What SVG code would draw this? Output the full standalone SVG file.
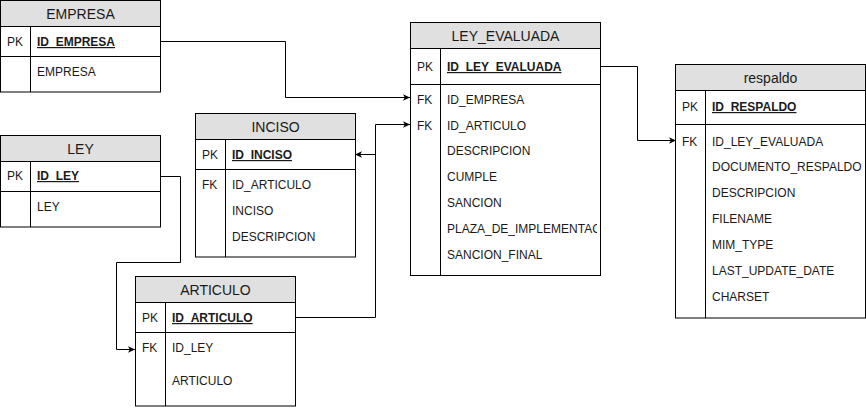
<svg xmlns="http://www.w3.org/2000/svg" width="866" height="409" viewBox="0 0 866 409">
<style>
.box{fill:#fff;stroke:#000;stroke-width:1}
.hdr{fill:#e0e0e0;stroke:#000;stroke-width:1}
.ln{stroke:#000;stroke-width:1;fill:none}
.t{font-family:"Liberation Sans",Arial,sans-serif;font-size:12px;fill:#1a1a1a}
.h{font-family:"Liberation Sans",Arial,sans-serif;font-size:14px;fill:#1a1a1a;text-anchor:middle}
.pk{font-weight:bold;text-decoration:underline}
.edge{stroke:#000;stroke-width:1;fill:none;marker-end:url(#arr)}
</style>
<defs>
<marker id="arr" markerWidth="8" markerHeight="8" refX="7" refY="4" orient="auto" markerUnits="userSpaceOnUse">
<path d="M0,0.8 L7,4 L0,7.2 L1.8,4 Z" fill="#000"/>
</marker>
<clipPath id="clipLE"><rect x="410" y="22" width="187" height="253"/></clipPath>
<clipPath id="clipRS"><rect x="676" y="64" width="186" height="254"/></clipPath>
</defs>

<g id="connectors">
<path class="edge" d="M160.5,41.5 H285.5 V97.5 H410"/>
<path class="edge" d="M160.5,176.5 H180.5 V262.5 H116.5 V349.5 H135"/>
<path class="edge" d="M295.5,317.5 H375.5 V124.5 H410"/>
<path class="edge" d="M375.5,154.5 H355"/>
<path class="edge" d="M600.5,66.5 H637.5 V140.5 H676"/>
</g>

<g id="EMPRESA">
<rect class="box" x="0.5" y="0.5" width="160" height="91.5"/>
<rect class="hdr" x="0.5" y="0.5" width="160" height="26"/>
<line class="ln" x1="0.5" y1="56.5" x2="160.5" y2="56.5"/>
<line class="ln" x1="30.5" y1="26.5" x2="30.5" y2="92"/>
<text class="h" x="80.5" y="19">EMPRESA</text>
<text class="t" x="7" y="46">PK</text>
<text class="t pk" x="37" y="46">ID_EMPRESA</text>
<text class="t" x="37" y="76">EMPRESA</text>
</g>

<g id="LEY">
<rect class="box" x="0.5" y="135.5" width="160" height="91.5"/>
<rect class="hdr" x="0.5" y="135.5" width="160" height="26"/>
<line class="ln" x1="0.5" y1="191.5" x2="160.5" y2="191.5"/>
<line class="ln" x1="30.5" y1="161.5" x2="30.5" y2="227"/>
<text class="h" x="80.5" y="154">LEY</text>
<text class="t" x="7" y="180">PK</text>
<text class="t pk" x="37" y="180">ID_LEY</text>
<text class="t" x="37" y="211">LEY</text>
</g>

<g id="INCISO">
<rect class="box" x="195.5" y="113.5" width="160" height="143.5"/>
<rect class="hdr" x="195.5" y="113.5" width="160" height="26"/>
<line class="ln" x1="195.5" y1="169.5" x2="355.5" y2="169.5"/>
<line class="ln" x1="225.5" y1="139.5" x2="225.5" y2="257"/>
<text class="h" x="275.5" y="132">INCISO</text>
<text class="t" x="202" y="159">PK</text>
<text class="t pk" x="232" y="159">ID_INCISO</text>
<text class="t" x="202" y="189">FK</text>
<text class="t" x="232" y="189">ID_ARTICULO</text>
<text class="t" x="232" y="215">INCISO</text>
<text class="t" x="232" y="241">DESCRIPCION</text>
</g>

<g id="LEY_EVALUADA">
<rect class="box" x="410.5" y="22.5" width="190" height="253"/>
<rect class="hdr" x="410.5" y="22.5" width="190" height="26"/>
<line class="ln" x1="410.5" y1="84.5" x2="600.5" y2="84.5"/>
<line class="ln" x1="440.5" y1="48.5" x2="440.5" y2="275.5"/>
<text class="h" x="505.5" y="41">LEY_EVALUADA</text>
<text class="t" x="417" y="71">PK</text>
<text class="t pk" x="447" y="71">ID_LEY_EVALUADA</text>
<text class="t" x="417" y="104">FK</text>
<text class="t" x="447" y="104">ID_EMPRESA</text>
<text class="t" x="417" y="130">FK</text>
<text class="t" x="447" y="130">ID_ARTICULO</text>
<g clip-path="url(#clipLE)">
<text class="t" x="447" y="155">DESCRIPCION</text>
<text class="t" x="447" y="181">CUMPLE</text>
<text class="t" x="447" y="207">SANCION</text>
<text class="t" x="447" y="233">PLAZA_DE_IMPLEMENTACION</text>
<text class="t" x="447" y="259">SANCION_FINAL</text>
</g>
</g>

<g id="respaldo">
<rect class="box" x="675.5" y="64.5" width="190" height="253.5"/>
<rect class="hdr" x="675.5" y="64.5" width="190" height="26"/>
<line class="ln" x1="675.5" y1="124.5" x2="865.5" y2="124.5"/>
<line class="ln" x1="705.5" y1="90.5" x2="705.5" y2="318"/>
<text class="h" x="770.5" y="83">respaldo</text>
<text class="t" x="682" y="111">PK</text>
<text class="t pk" x="712" y="111">ID_RESPALDO</text>
<text class="t" x="682" y="146">FK</text>
<g clip-path="url(#clipRS)">
<text class="t" x="712" y="146">ID_LEY_EVALUADA</text>
<text class="t" x="712" y="171">DOCUMENTO_RESPALDO</text>
<text class="t" x="712" y="197">DESCRIPCION</text>
<text class="t" x="712" y="223">FILENAME</text>
<text class="t" x="712" y="249">MIM_TYPE</text>
<text class="t" x="712" y="275">LAST_UPDATE_DATE</text>
<text class="t" x="712" y="301">CHARSET</text>
</g>
</g>

<g id="ARTICULO">
<rect class="box" x="135.5" y="276.5" width="160" height="129.5"/>
<rect class="hdr" x="135.5" y="276.5" width="160" height="26"/>
<line class="ln" x1="135.5" y1="332.5" x2="295.5" y2="332.5"/>
<line class="ln" x1="165.5" y1="302.5" x2="165.5" y2="406"/>
<text class="h" x="215.5" y="295">ARTICULO</text>
<text class="t" x="142" y="322">PK</text>
<text class="t pk" x="172" y="322">ID_ARTICULO</text>
<text class="t" x="142" y="352">FK</text>
<text class="t" x="172" y="352">ID_LEY</text>
<text class="t" x="172" y="385">ARTICULO</text>
</g>
</svg>
